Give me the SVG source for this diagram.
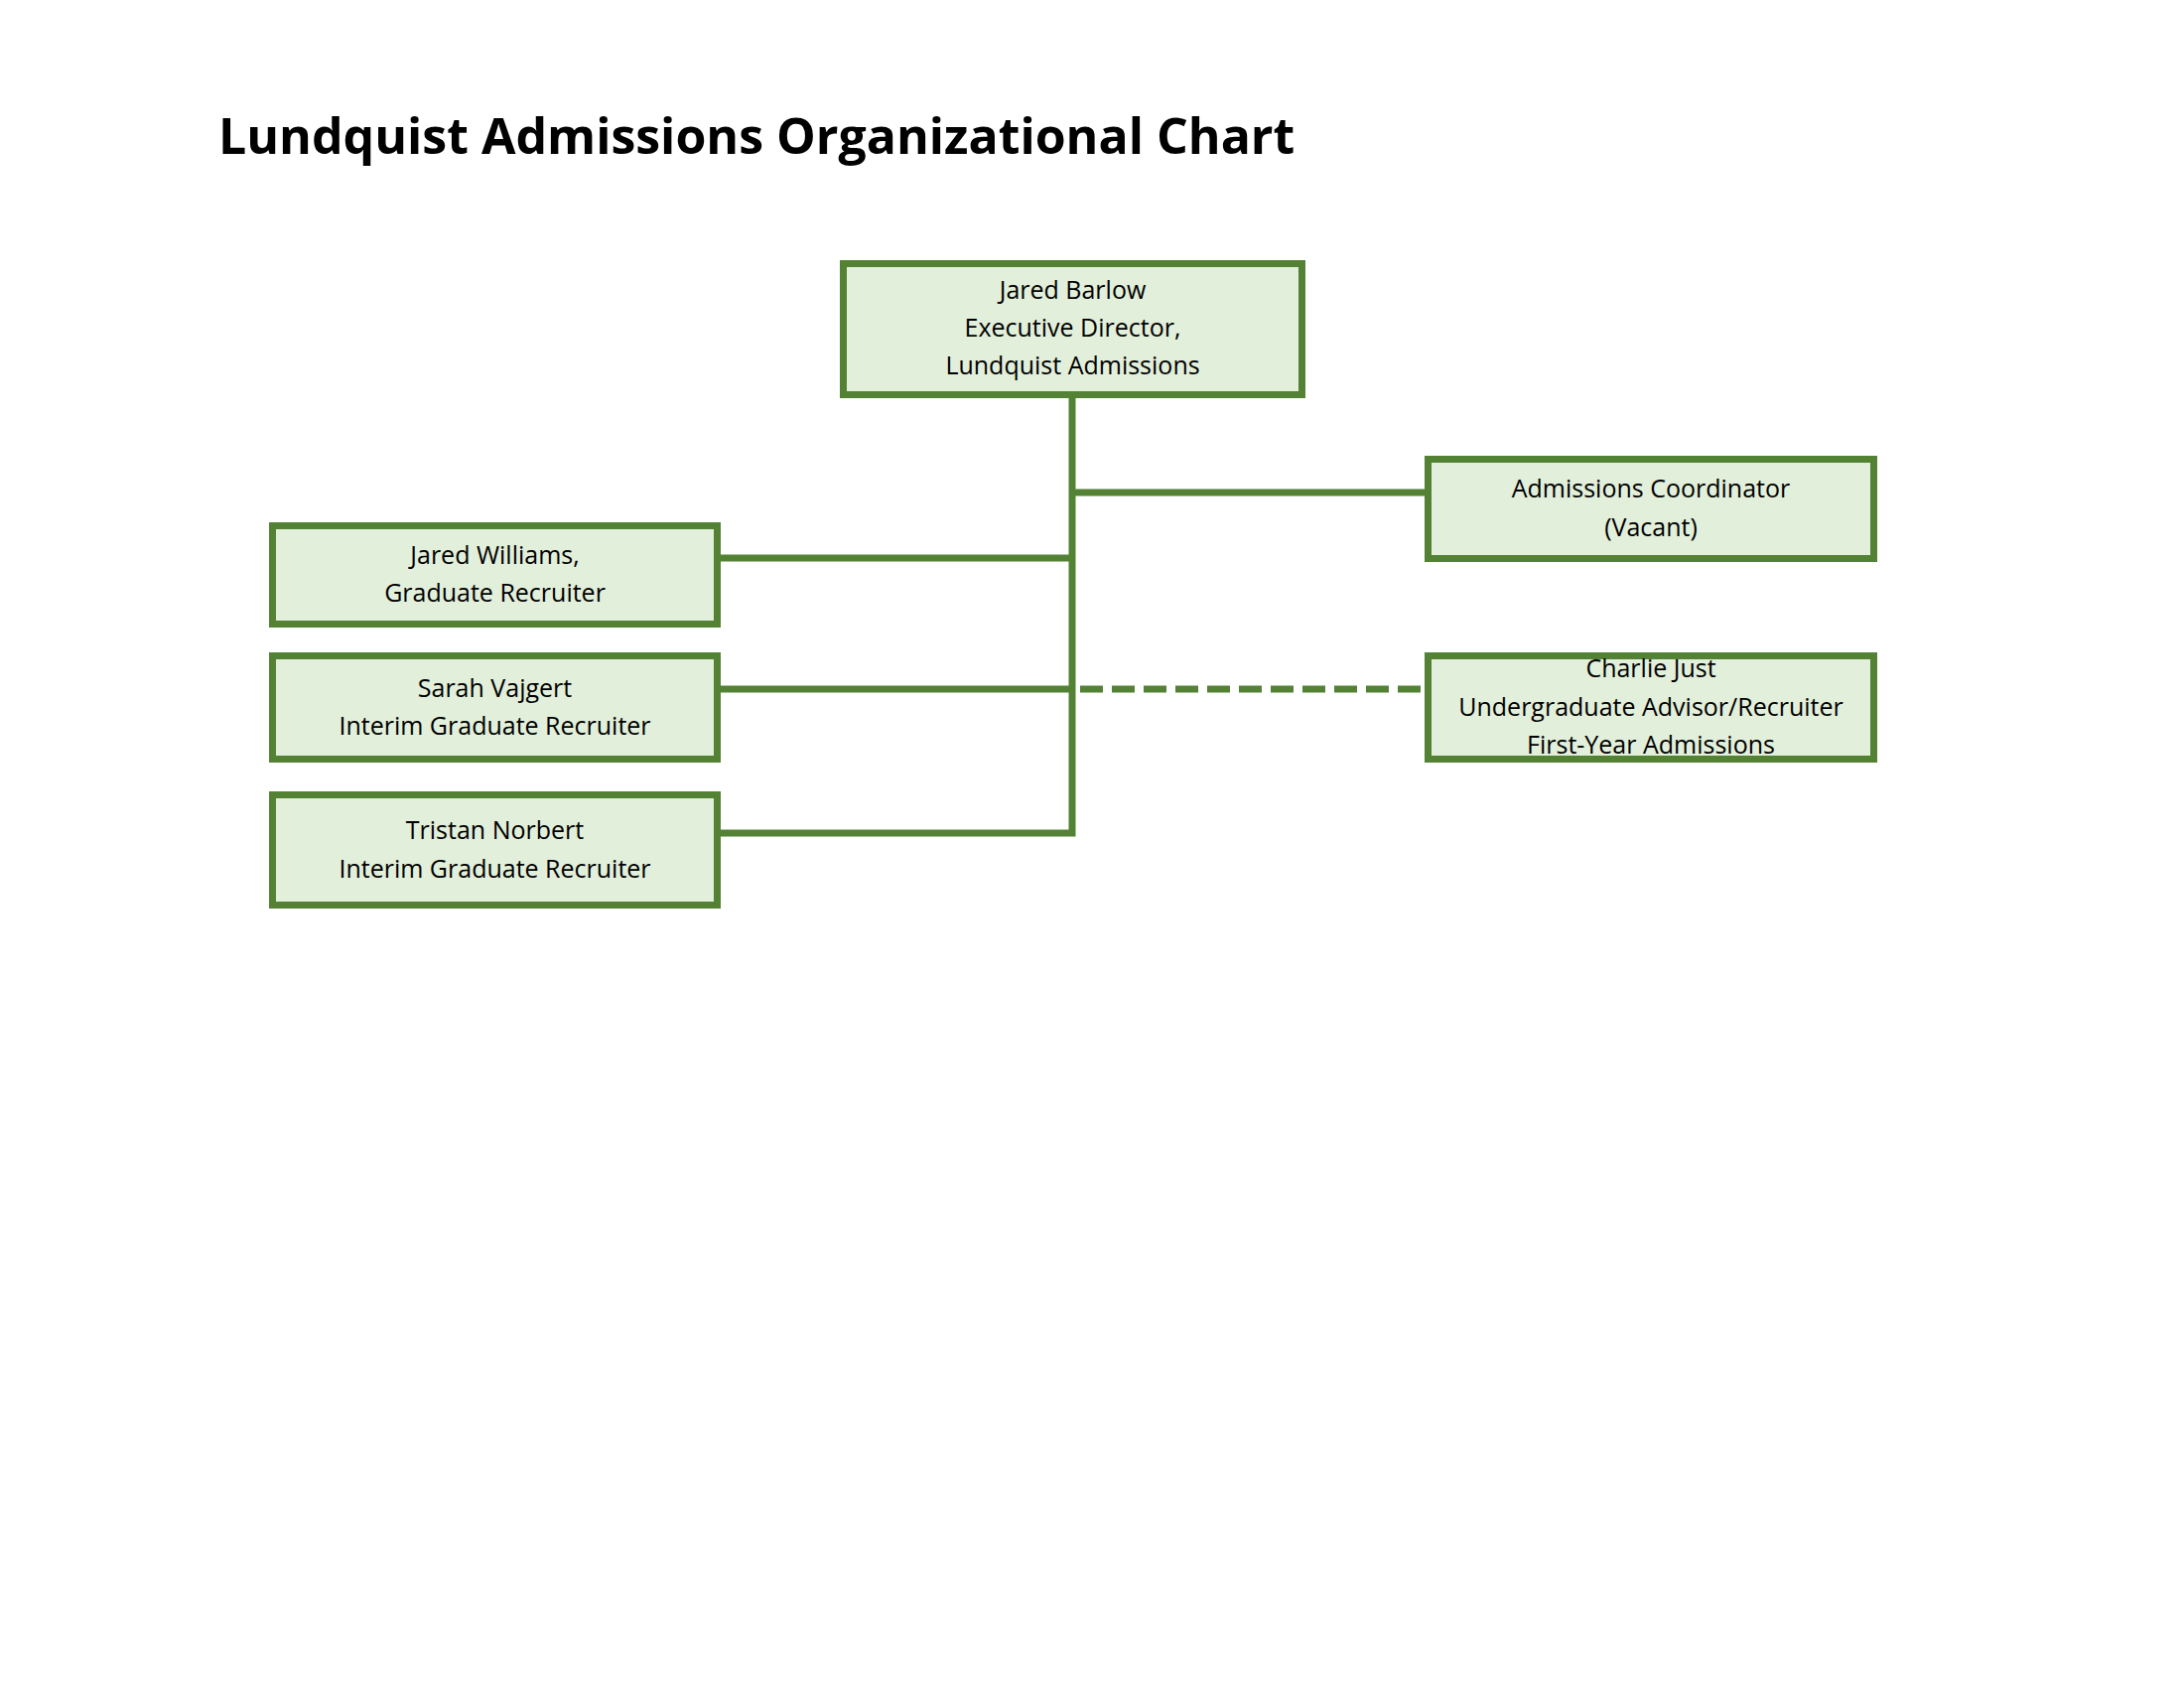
<svg xmlns="http://www.w3.org/2000/svg" width="2200" height="1700" viewBox="0 0 2200 1700">
<style>
.box{fill:#E2EFDA;stroke:#548235;stroke-width:7}
.t{font-family:"Open Sans","Liberation Sans",sans-serif;font-size:25px;fill:#000;text-anchor:middle}
.title{font-family:"Open Sans","Liberation Sans",sans-serif;font-size:50px;font-weight:bold;fill:#000}
.ln{fill:none;stroke:#548235;stroke-width:7;stroke-linejoin:miter;stroke-linecap:butt}
.dash{stroke-dasharray:23 9}
</style>
<rect width="2200" height="1700" fill="#fff"/>
<text class="title" x="220" y="155">Lundquist Admissions Organizational Chart</text>
<g id="connectors">
<path class="ln" d="M1080 401 V839 H726"/>
<path class="ln" d="M726 562 H1080"/>
<path class="ln" d="M726 694 H1080"/>
<path class="ln" d="M1080 496 H1435"/>
<path class="ln dash" d="M1088 694 H1435"/>
</g>
<g id="node-barlow">
<rect class="box" x="849.5" y="265.5" width="462" height="132"/>
<text class="t" x="1080.5" y="301">Jared Barlow</text>
<text class="t" x="1080.5" y="339">Executive Director,</text>
<text class="t" x="1080.5" y="377">Lundquist Admissions</text>
</g>
<g id="node-williams">
<rect class="box" x="274.5" y="529.5" width="448" height="99"/>
<text class="t" x="498.5" y="568">Jared Williams,</text>
<text class="t" x="498.5" y="606">Graduate Recruiter</text>
</g>
<g id="node-vajgert">
<rect class="box" x="274.5" y="660.5" width="448" height="104"/>
<text class="t" x="498.5" y="702">Sarah Vajgert</text>
<text class="t" x="498.5" y="740">Interim Graduate Recruiter</text>
</g>
<g id="node-norbert">
<rect class="box" x="274.5" y="800.5" width="448" height="111"/>
<text class="t" x="498.5" y="845">Tristan Norbert</text>
<text class="t" x="498.5" y="884">Interim Graduate Recruiter</text>
</g>
<g id="node-coordinator">
<rect class="box" x="1438.5" y="462.5" width="449" height="100"/>
<text class="t" x="1663" y="501">Admissions Coordinator</text>
<text class="t" x="1663" y="540">(Vacant)</text>
</g>
<g id="node-just">
<rect class="box" x="1438.5" y="660.5" width="449" height="104"/>
<text class="t" x="1663" y="682">Charlie Just</text>
<text class="t" x="1663" y="721">Undergraduate Advisor/Recruiter</text>
<text class="t" x="1663" y="759">First-Year Admissions</text>
</g>
</svg>
